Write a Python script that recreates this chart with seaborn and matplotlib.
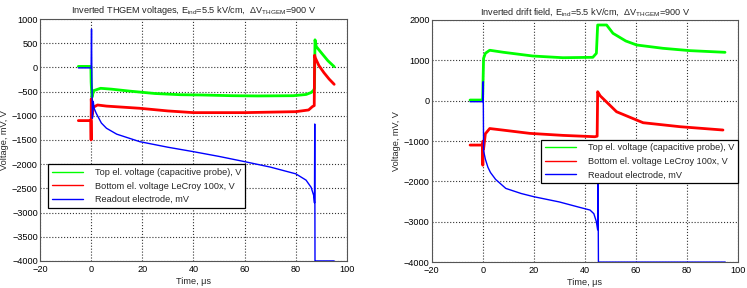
import numpy as np
import pandas as pd
import matplotlib
matplotlib.use("Agg")
import matplotlib.pyplot as plt
import seaborn as sns

# ---- left panel: inverted THGEM voltages ----
top_t_L = [-5, -0.1, 0.0, 0.3, 1, 3.7, 8, 15, 25, 35, 43, 55, 65, 79, 84, 86, 87, 87.3, 87.5, 88, 90, 92.5, 95]
top_v_L = [20, 20, -300, -620, -480, -432, -450, -490, -540, -565, -570, -585, -590, -585, -560, -520, -470, -430, 570, 430, 300, 140, 15]

bot_t_L = [-5, -0.1, 0.0, 0.05, 0.3, 1, 2.5, 6, 19, 30, 40, 60, 80, 85, 86.5, 87.2, 87.35, 87.6, 89, 91, 93, 95]
bot_v_L = [-1100, -1100, -1500, -650, -1000, -820, -777, -800, -845, -900, -935, -935, -915, -880, -810, -790, 250, 200, 40, -110, -240, -350]

rd_t_L = [-5, 0.0, 0.15, 0.3, 0.5, 0.8, 1.2, 2, 4, 6, 10, 19, 30, 40, 50, 60, 70, 80, 84, 86, 87, 87.3, 87.4, 87.5, 87.7, 95]
rd_v_L = [-10, -10, 790, -300, -1050, -700, -850, -950, -1150, -1258, -1380, -1535, -1650, -1742, -1840, -1948, -2060, -2200, -2330, -2480, -2650, -2800, -1170, -4000, -4000, -4000]

# ---- right panel: inverted drift field ----
top_t_R = [-5, -0.1, 0.0, 0.3, 1, 2.7, 8, 19.6, 31.4, 43.1, 44.5, 45.0, 48.5, 51, 56, 60.3, 70.6, 81.2, 94.9]
top_v_R = [16, 16, 200, 1050, 1174, 1250, 1200, 1107, 1065, 1075, 1174, 1876, 1876, 1670, 1480, 1380, 1298, 1240, 1199]

bot_t_R = [-5, -0.1, 0.0, 0.05, 0.3, 1, 2.7, 8, 18.4, 31.4, 43.9, 44.8, 45.0, 46, 52.4, 62.8, 77.3, 94.1]
bot_v_R = [-1100, -1100, -1600, -1000, -1200, -820, -690, -730, -810, -860, -893, -880, 222, 120, -274, -546, -645, -727]

rd_t_R = [-5, 0.0, 0.15, 0.3, 0.5, 1, 2, 3, 5, 9, 15, 20, 30, 38, 42, 43.5, 44.5, 45.0, 45.1, 45.3, 95]
rd_v_R = [-25, -25, 470, -1223, -1300, -1450, -1650, -1780, -1950, -2174, -2300, -2380, -2510, -2645, -2710, -2800, -3000, -3200, -1300, -4000, -4000]

labels = ["Top el. voltage (capacitive probe), V",
          "Bottom el. voltage LeCroy 100x, V",
          "Readout electrode, mV"]
colors = ["#00ff00", "#ff0000", "#0000ff"]
widths = [2.0, 2.0, 1.0]

sns.set_style("white")
plt.rcParams['font.family'] = ['Liberation Sans', 'DejaVu Sans']
plt.rcParams['mathtext.fontset'] = 'custom'
plt.rcParams['mathtext.rm'] = 'Liberation Sans'
plt.rcParams['mathtext.it'] = 'Liberation Sans'

FS = 6.6

fig = plt.figure(figsize=(7.47, 2.88), dpi=100)
axL = fig.add_axes([0.0535, 0.094, 0.411, 0.840])
axR = fig.add_axes([0.578, 0.090, 0.410, 0.8406])


def draw(ax, series, yticks, title, leg_loc, leg_anchor):
    for (t, v), lab, c, lw in zip(series, labels, colors, widths):
        df = pd.DataFrame({"t": t, "v": v})
        sns.lineplot(data=df, x="t", y="v", sort=False, estimator=None,
                     color=c, lw=lw, label=lab, ax=ax)
    ax.set_xlim(-20, 100)
    ax.set_ylim(yticks[0], yticks[-1])
    ax.set_xticks(range(-20, 101, 20))
    ax.set_yticks(yticks)
    ax.grid(True, linestyle=":", color="#333333", lw=0.8)
    ax.tick_params(direction="in", length=3, labelsize=FS, pad=1.5, colors="black")
    ax.tick_params(axis="x", pad=3)
    for s in ax.spines.values():
        s.set_color("#555555")
        s.set_linewidth(0.8)
    ax.set_xlabel("Time, \u03bcs", fontsize=FS, labelpad=2)
    ax.set_ylabel("Voltage, mV, V", fontsize=FS, labelpad=2)
    ax.set_title(title, fontsize=FS, pad=4)
    leg = ax.legend(loc=leg_loc, bbox_to_anchor=leg_anchor, fontsize=FS,
                    fancybox=False, framealpha=1, edgecolor="black",
                    handlelength=3.4, borderpad=0.4, labelspacing=0.5,
                    handletextpad=1.3, borderaxespad=0)
    leg.get_frame().set_linewidth(0.9)
    for h in leg.get_lines():
        h.set_linewidth(1.0)


draw(axL, [(top_t_L, top_v_L), (bot_t_L, bot_v_L), (rd_t_L, rd_v_L)],
     list(range(-4000, 1001, 500)),
     r"Inverted THGEM voltages, E$_{ind}$=5.5 kV/cm,  $\Delta$V$_{THGEM}$=900 V",
     "lower left", (0.026, 0.219))
draw(axR, [(top_t_R, top_v_R), (bot_t_R, bot_v_R), (rd_t_R, rd_v_R)],
     list(range(-4000, 2001, 1000)),
     r"Inverted drift field, E$_{ind}$=5.5 kV/cm,  $\Delta$V$_{THGEM}$=900 V",
     "lower right", (1.0, 0.326))

fig.savefig("out.png", dpi=100)
